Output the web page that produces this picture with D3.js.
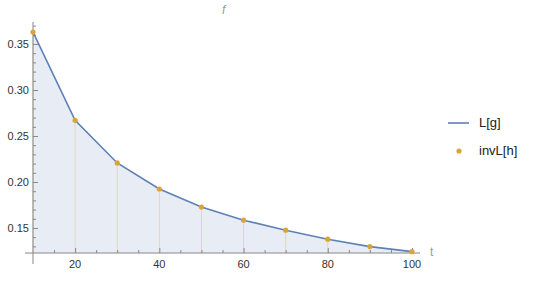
<!DOCTYPE html>
<html><head><meta charset="utf-8">
<script src="https://cdn.jsdelivr.net/npm/d3@7/dist/d3.min.js"></script>
<style>body{margin:0;background:#fff}svg{display:block}text{font-family:"Liberation Sans",Arial,sans-serif}</style>
</head><body>
<script>
const tValues = [10, 20, 30, 40, 50, 60, 70, 80, 90, 100];
const fValues = [0.363, 0.267, 0.2207, 0.1924, 0.1728, 0.1585, 0.1476, 0.1378, 0.1298, 0.1243];
const xTickValues = [20, 40, 60, 80, 100];
const yTickValues = [0.15, 0.20, 0.25, 0.30, 0.35];
const seriesNames = ["L[g]", "invL[h]"];

const W = 540, H = 282;
const svg = d3.select("body").append("svg").attr("width", W).attr("height", H);
const x = d3.scaleLinear().domain([10, 100]).range([33, 412]);
const y = d3.scaleLinear().domain([0.15, 0.35]).range([228, 44]);
const yBase = 0.1228;
const lineColor = "#5E81B5", ptColor = "#D9A53A";

const data = tValues.map((t, i) => ({t, f: fValues[i]}));
const curve = d3.curveLinear;

// area fill
svg.append("path").datum(data)
  .attr("d", d3.area().x(d => x(d.t)).y0(y(yBase)).y1(d => y(d.f)).curve(curve))
  .attr("fill", lineColor).attr("fill-opacity", 0.14);

// drop lines
svg.append("g").selectAll("line").data(data).join("line")
  .attr("x1", d => x(d.t)).attr("x2", d => x(d.t))
  .attr("y1", d => y(d.f)).attr("y2", y(yBase))
  .attr("stroke", "#e0d6c0").attr("stroke-width", 1);

// axes
const ax = svg.append("g").attr("stroke", "#888").attr("stroke-width", 1);
ax.append("line").attr("x1", 25).attr("x2", 420).attr("y1", y(yBase)).attr("y2", y(yBase));
ax.append("line").attr("x1", 33).attr("x2", 33).attr("y1", 22).attr("y2", 264);

// x ticks (inside)
const xAxis = d3.axisTop(x).tickValues(xTickValues).tickSize(5).tickFormat("");
const gx = svg.append("g").attr("transform", `translate(0,${y(yBase)})`).call(xAxis);
const xMinor = d3.axisTop(x).tickValues(d3.range(15, 101, 5).filter(v => v % 20 !== 0)).tickSize(3).tickFormat("");
const gxm = svg.append("g").attr("transform", `translate(0,${y(yBase)})`).call(xMinor);
[gx, gxm].forEach(g => { g.select(".domain").remove(); g.selectAll("line").attr("stroke", "#888"); });
svg.append("g").selectAll("text").data(xTickValues).join("text")
  .attr("x", d => x(d)).attr("y", 268).attr("text-anchor", "middle")
  .attr("font-size", 11).attr("fill", "#333").text(d => d);

// y ticks (inside)
const yAxis = d3.axisRight(y).tickValues(yTickValues).tickSize(5).tickFormat("");
const gy = svg.append("g").attr("transform", "translate(33,0)").call(yAxis);
const yMinorVals = d3.range(13, 38).map(v => v / 100).filter(v => Math.round(v * 100) % 5 !== 0 && v <= 0.372);
const gym = svg.append("g").attr("transform", "translate(33,0)").call(d3.axisRight(y).tickValues(yMinorVals).tickSize(3).tickFormat(""));
[gy, gym].forEach(g => { g.select(".domain").remove(); g.selectAll("line").attr("stroke", "#888"); });
svg.append("g").selectAll("text").data(yTickValues).join("text")
  .attr("x", 29).attr("y", d => y(d) + 4).attr("text-anchor", "end")
  .attr("font-size", 11).attr("fill", "#333").text(d => d.toFixed(2));

// line
svg.append("path").datum(data)
  .attr("d", d3.line().x(d => x(d.t)).y(d => y(d.f)).curve(curve))
  .attr("fill", "none").attr("stroke", lineColor).attr("stroke-width", 1.6);

// points
svg.append("g").selectAll("circle").data(data).join("circle")
  .attr("cx", d => x(d.t)).attr("cy", d => y(d.f)).attr("r", 2.6)
  .attr("fill", ptColor);

// axis labels
svg.append("text").attr("x", 222).attr("y", 14).attr("font-size", 12)
  .attr("font-style", "italic").attr("fill", "#999").text("f");
svg.append("text").attr("x", 430).attr("y", 256).attr("font-size", 12)
  .attr("fill", "#999").text("t");

// legend
const lg = svg.append("g");
lg.append("line").attr("x1", 448).attr("x2", 469).attr("y1", 123).attr("y2", 123)
  .attr("stroke", lineColor).attr("stroke-width", 1.6);
lg.append("circle").attr("cx", 459).attr("cy", 151).attr("r", 2.6).attr("fill", ptColor);
lg.selectAll("text").data(seriesNames).join("text")
  .attr("x", 479).attr("y", (d, i) => 127 + i * 28)
  .attr("font-size", 13).attr("fill", "#222").text(d => d);
</script>
</body></html>
